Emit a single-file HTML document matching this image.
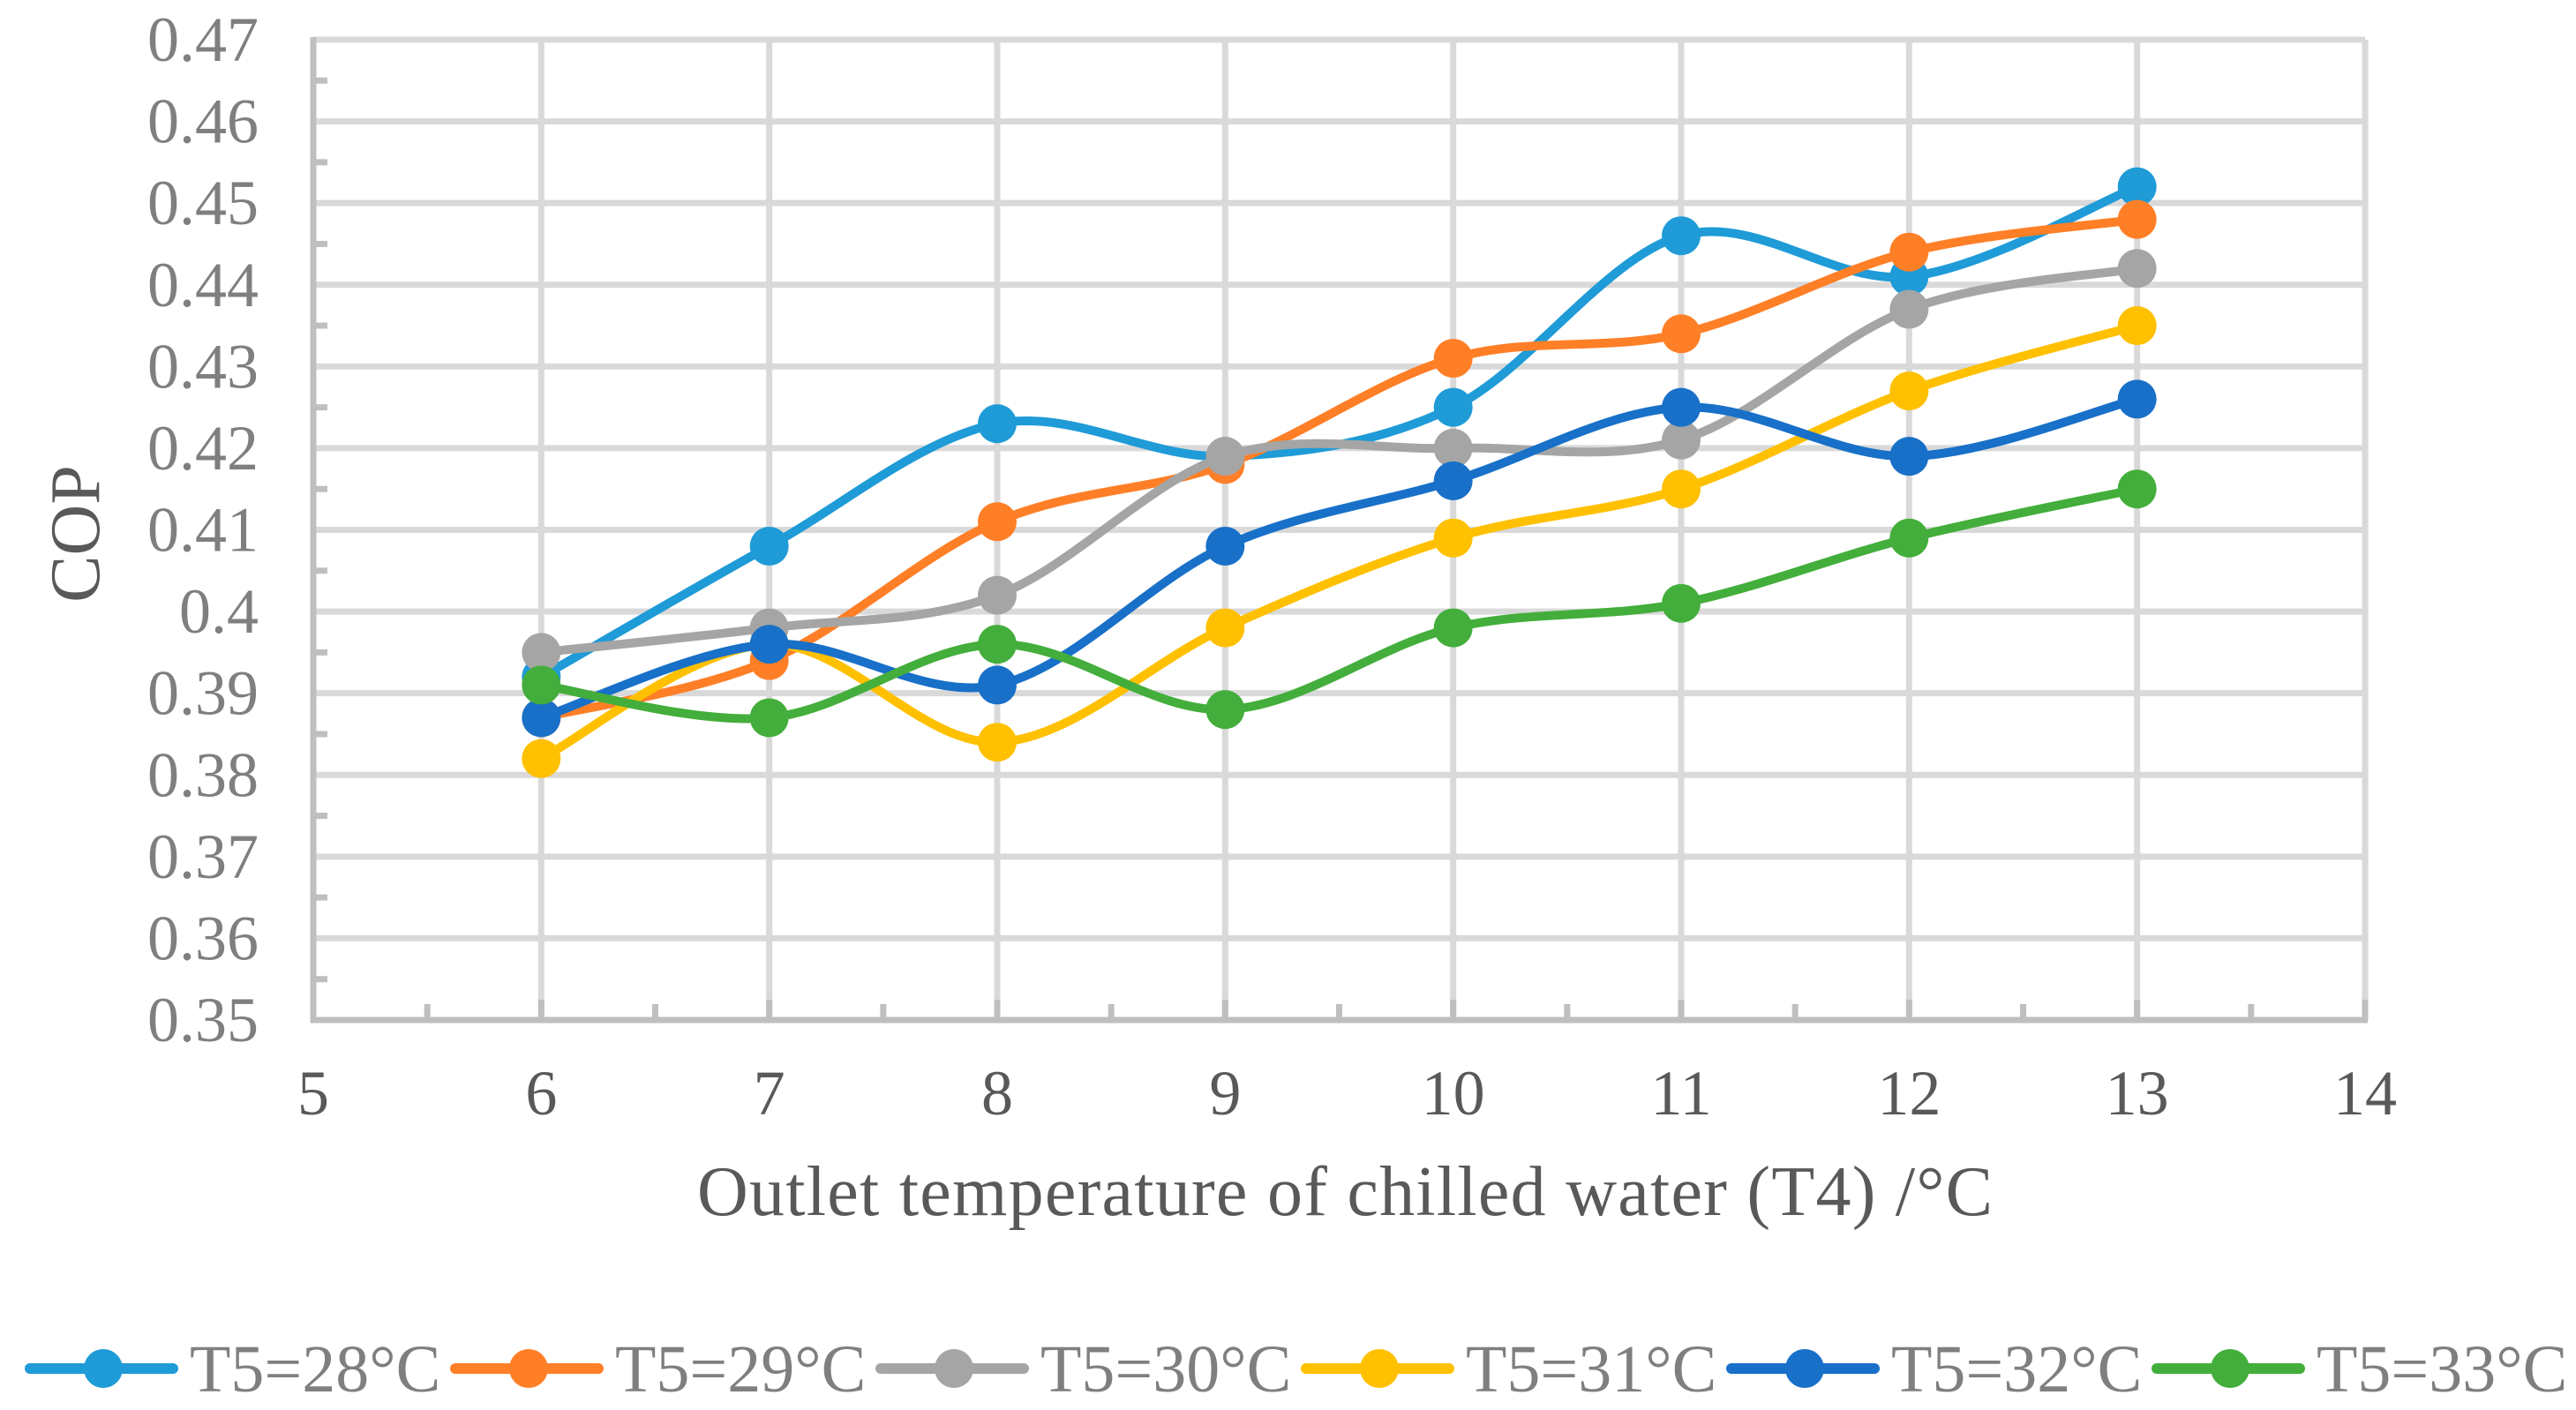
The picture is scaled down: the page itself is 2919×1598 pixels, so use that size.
<!DOCTYPE html>
<html><head><meta charset="utf-8">
<style>
html,body{margin:0;padding:0;background:#fff;}
svg{display:block;}
svg text{font-family:"Liberation Serif","DejaVu Serif","Times New Roman",serif;}
</style></head>
<body>
<svg id="chart" width="2919" height="1598" viewBox="0 0 2919 1598" xmlns="http://www.w3.org/2000/svg" font-family="'Liberation Serif', 'DejaVu Serif', serif">
<g id="grid"></g>
<g id="axes"></g>
<g id="series"></g>
<g id="legend"></g>
<text font-family="'Liberation Serif', 'DejaVu Serif', serif" x="0" y="0" transform="translate(112,605) rotate(-90)" text-anchor="middle" font-size="80" fill="#595959">COP</text>
<text font-family="'Liberation Serif', 'DejaVu Serif', serif" x="1524" y="1377" text-anchor="middle" font-size="80" fill="#595959" textLength="1468" lengthAdjust="spacing">Outlet temperature of chilled water (T4) /°C</text>
</svg>
<script>
const xCategories = [6, 7, 8, 9, 10, 11, 12, 13];
const xTicks = [5, 6, 7, 8, 9, 10, 11, 12, 13, 14];
const yTicks = ["0.35","0.36","0.37","0.38","0.39","0.4","0.41","0.42","0.43","0.44","0.45","0.46","0.47"];
const seriesNames = ["T5=28°C","T5=29°C","T5=30°C","T5=31°C","T5=32°C","T5=33°C"];
const t28 = [0.392, 0.408, 0.423, 0.419, 0.425, 0.446, 0.441, 0.452];
const t29 = [0.387, 0.394, 0.411, 0.418, 0.431, 0.434, 0.444, 0.448];
const t30 = [0.395, 0.398, 0.402, 0.419, 0.420, 0.421, 0.437, 0.442];
const t31 = [0.382, 0.396, 0.384, 0.398, 0.409, 0.415, 0.427, 0.435];
const t32 = [0.387, 0.396, 0.391, 0.408, 0.416, 0.425, 0.419, 0.426];
const t33 = [0.391, 0.387, 0.396, 0.388, 0.398, 0.401, 0.409, 0.415];

const seriesData = [t28, t29, t30, t31, t32, t33];
const colors = ["#1F9BD7","#FF7F27","#A5A5A5","#FFC000","#1870C8","#43AE3B"];
const NS = "http://www.w3.org/2000/svg";
const FONT = "'Liberation Serif', 'DejaVu Serif', serif";
const L = 355, R = 2680, T = 45, B = 1156;
const xMin = 5, xMax = 14, yMin = 0.35, yMax = 0.47;
function xs(v){ return L + (v - xMin) / (xMax - xMin) * (R - L); }
function ys(v){ return B - (v - yMin) / (yMax - yMin) * (B - T); }
function mk(tag, attrs, parent){
  const e = document.createElementNS(NS, tag);
  for (const k in attrs) e.setAttribute(k, attrs[k]);
  parent.appendChild(e); return e;
}
const grid = document.getElementById('grid');
const axes = document.getElementById('axes');
yTicks.forEach(function(t){
  const y = ys(parseFloat(t));
  if (parseFloat(t) > yMin) {
    const g = mk('line', {x1:L, x2:R, y1:y, y2:y, stroke:'#D9D9D9', 'stroke-width':7}, grid);
    
    
  }
  const lb = mk('text', {x:293, y:y+24, 'text-anchor':'end', 'font-size':72, fill:'#7F7F7F', 'font-family':FONT}, axes);
  lb.textContent = t;
  
  
});
for (let i = 0; i < yTicks.length - 1; i++) {
  const v = parseFloat(yTicks[i]) + 0.005;
  const y = ys(v);
  const m = mk('line', {x1:L, x2:371, y1:y, y2:y, stroke:'#BFBFBF', 'stroke-width':7}, axes);
  
  
}
xTicks.forEach(function(t){
  const x = xs(t);
  if (t > xMin) {
    const g = mk('line', {x1:x, x2:x, y1:T, y2:B, stroke:'#D9D9D9', 'stroke-width':7}, grid);
    
    
    const tk = mk('line', {x1:x, x2:x, y1:1133, y2:B, stroke:'#BFBFBF', 'stroke-width':7}, axes);
    
    
  }
  const lb = mk('text', {x:x, y:1263, 'text-anchor':'middle', 'font-size':72, fill:'#595959', 'font-family':FONT}, axes);
  lb.textContent = t;
  
  
});
for (let i = 0; i < xTicks.length - 1; i++) {
  const x = xs(xTicks[i] + 0.5);
  const m = mk('line', {x1:x, x2:x, y1:1138, y2:B, stroke:'#BFBFBF', 'stroke-width':7}, axes);
  
  
}
const ya = mk('line', {x1:L, x2:L, y1:T-3, y2:B+3, stroke:'#BFBFBF', 'stroke-width':7}, axes);


const xa = mk('line', {x1:L-3, x2:R+3, y1:B, y2:B, stroke:'#BFBFBF', 'stroke-width':7}, axes);



const sg = document.getElementById('series');
function smoothPath(pts){
  let d = 'M' + pts[0][0] + ',' + pts[0][1];
  const k = 1/6;
  for (let i = 0; i < pts.length - 1; i++) {
    const p0 = pts[Math.max(0, i-1)], p1 = pts[i], p2 = pts[i+1], p3 = pts[Math.min(pts.length-1, i+2)];
    const c1x = p1[0] + (p2[0]-p0[0])*k, c1y = p1[1] + (p2[1]-p0[1])*k;
    const c2x = p2[0] - (p3[0]-p1[0])*k, c2y = p2[1] - (p3[1]-p1[1])*k;
    d += ' C' + c1x + ',' + c1y + ' ' + c2x + ',' + c2y + ' ' + p2[0] + ',' + p2[1];
  }
  return d;
}
seriesData.forEach(function(vals, si){
  const g = mk('g', {}, sg);
  
  
  const pts = vals.map(function(v, i){ return [xs(xCategories[i]), ys(v)]; });
  const p = mk('path', {d:smoothPath(pts), fill:'none', stroke:colors[si], 'stroke-width':10, 'stroke-linecap':'round'}, g);
  
  
  pts.forEach(function(pt){
    const c = mk('circle', {cx:pt[0], cy:pt[1], r:22, fill:colors[si]}, g);
    
    
  });
});
const lg = document.getElementById('legend');
seriesNames.forEach(function(n, i){
  const x0 = 29 + i * 482, y = 1551;
  const g = mk('g', {}, lg);
  
  
  mk('line', {x1:x0+5, x2:x0+167, y1:y, y2:y, stroke:colors[i], 'stroke-width':12, 'stroke-linecap':'round'}, g);
  mk('circle', {cx:x0+88, cy:y, r:22, fill:colors[i]}, g);
  const t = mk('text', {x:x0+186, y:y+26, 'font-size':76, fill:'#7F7F7F', 'font-family':FONT}, g);
  t.textContent = n;
  
  
});
</script>
</body></html>
